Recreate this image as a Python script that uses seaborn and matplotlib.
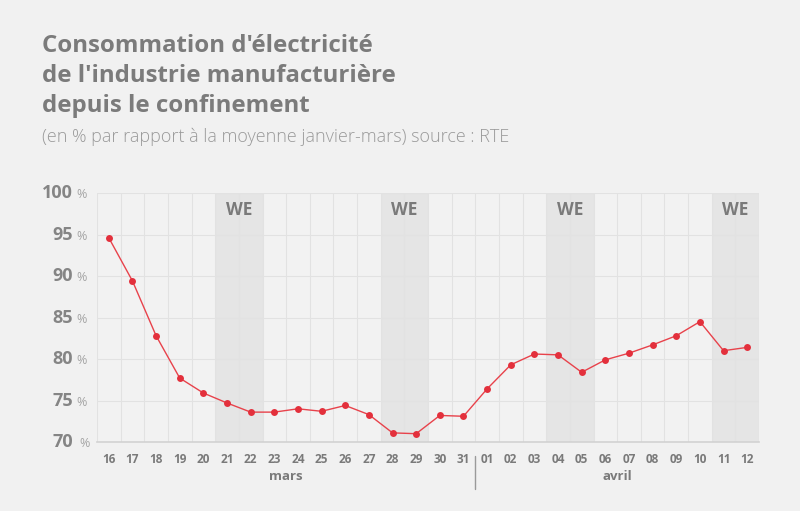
import matplotlib
matplotlib.use("Agg")
import matplotlib.pyplot as plt
import seaborn as sns
import pandas as pd
import numpy as np

days = ["16", "17", "18", "19", "20", "21", "22", "23", "24", "25", "26", "27", "28", "29", "30", "31",
        "01", "02", "03", "04", "05", "06", "07", "08", "09", "10", "11", "12"]
values = [94.6, 89.4, 82.8, 77.7, 75.9, 74.7, 73.6, 73.6, 74.0, 73.7, 74.4, 73.3, 71.1, 71.0, 73.2, 73.1,
          76.4, 79.3, 80.6, 80.5, 78.4, 79.9, 80.7, 81.7, 82.8, 84.5, 81.0, 81.4]
weekends = [("21", "22"), ("28", "29"), ("04", "05"), ("11", "12")]
months = ["mars", "avril"]
month_ranges = [("16", "31"), ("01", "12")]
y_ticks = [70, 75, 80, 85, 90, 95, 100]

title = "Consommation d'électricité\nde l'industrie manufacturière\ndepuis le confinement"
subtitle = "(en % par rapport à la moyenne janvier-mars) source : RTE"

sns.set_theme(style="white")
plt.rcParams["font.family"] = ["Open Sans", "DejaVu Sans"]

BG = "#f1f1f1"
fig = plt.figure(figsize=(8, 5.11), dpi=100, facecolor=BG)
ax = fig.add_axes([97 / 800, 1 - 442 / 511, 662 / 800, 249 / 511])
ax.set_facecolor("#f2f2f2")

df = pd.DataFrame({"pos": np.arange(len(days)), "val": values, "day": days})
idx = {d: i for i, d in enumerate(days)}

# weekend shading
for a, b in weekends:
    ax.axvspan(idx[a] - 0.5, idx[b] + 0.5, color="#e5e5e5", zorder=0, lw=0)
    ax.text((idx[a] + idx[b]) / 2, 97.9, "WE", ha="center", va="center",
            fontsize=12.5, fontweight="bold", color="#7a7a7a", zorder=1)

# grid
for i in range(len(days) + 1):
    ax.axvline(i - 0.5, color="#e2e2e2", lw=0.8, zorder=0.5)
for y in y_ticks:
    ax.axhline(y, color="#e2e2e2", lw=0.8, zorder=0.5)

sns.lineplot(data=df, x="pos", y="val", ax=ax, color="#e8424b", lw=1.0,
             marker="o", markersize=5, markeredgewidth=0, markerfacecolor="#e3303c", zorder=3)

ax.set_xlim(-0.5, len(days) - 0.5)
ax.set_ylim(70, 100)
ax.set_xlabel("")
ax.set_ylabel("")
for s in ["top", "right", "left"]:
    ax.spines[s].set_visible(False)
ax.spines["bottom"].set_color("#d2d2d2")
ax.spines["bottom"].set_linewidth(1.2)

ax.set_xticks(df["pos"])
ax.set_xticklabels(days, fontsize=8.5, fontweight="bold", color="#7a7a7a")
ax.tick_params(axis="x", length=0, pad=8)
ax.set_yticks(y_ticks)
ax.set_yticklabels([])
ax.tick_params(axis="y", length=0)

# y labels: number + %
trans = matplotlib.transforms.blended_transform_factory(fig.transFigure, ax.transData)
for y in y_ticks:
    ax.text(73 / 800, y, str(y), transform=trans, ha="right", va="center",
            fontsize=13, fontweight="bold", color="#858585")
    ax.text((76 if y != 70 else 79) / 800, y - 0.2, "%", transform=trans, ha="left", va="center",
            fontsize=9, color="#a5a5a5")

# month labels
tr2 = matplotlib.transforms.blended_transform_factory(ax.transData, fig.transFigure)
for m, (a, b) in zip(months, month_ranges):
    ax.text((idx[a] + idx[b]) / 2, 1 - 476 / 511, m, transform=tr2, ha="center", va="center",
            fontsize=9.5, fontweight="bold", color="#7a7a7a")
sep = idx["01"] - 0.5
ax.plot([sep, sep], [1 - 456 / 511, 1 - 489 / 511], transform=tr2, color="#9a9a9a", lw=1,
        clip_on=False)

fig.text(42 / 800, 1 - 34 / 511, title, ha="left", va="top", fontsize=17.3, fontweight="bold",
         color="#7b7b7b", linespacing=1.32)
fig.text(42 / 800, 1 - 137 / 511, subtitle, ha="left", va="center", fontsize=13,
         fontweight="light", color="#9a9a9a")

fig.savefig("out.png", dpi=100, facecolor=BG)
